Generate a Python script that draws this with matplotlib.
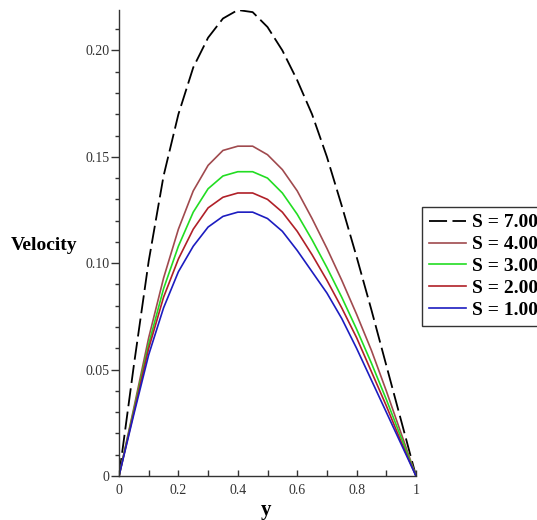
import numpy as np
import matplotlib
matplotlib.use('Agg')
import matplotlib.pyplot as plt
from matplotlib.ticker import MultipleLocator

plt.rcParams['font.family'] = ['Liberation Serif', 'DejaVu Serif']

# y positions (x axis of the chart)
y_pos = [0.0, 0.05, 0.1, 0.15, 0.2, 0.25, 0.3, 0.35, 0.4, 0.45, 0.5,
         0.55, 0.6, 0.65, 0.7, 0.75, 0.8, 0.85, 0.9, 0.95, 1.0]

# velocity profiles
vel_s7 = [0, 0.052, 0.101, 0.141, 0.170, 0.192, 0.206, 0.215, 0.219, 0.218, 0.211,
          0.200, 0.186, 0.170, 0.150, 0.127, 0.103, 0.078, 0.052, 0.026, 0]
vel_s4 = [0, 0.032, 0.065, 0.093, 0.116, 0.134, 0.146, 0.153, 0.155, 0.155, 0.151,
          0.144, 0.134, 0.121, 0.107, 0.092, 0.076, 0.059, 0.040, 0.020, 0]
vel_s3 = [0, 0.031, 0.062, 0.088, 0.108, 0.124, 0.135, 0.141, 0.143, 0.143, 0.140,
          0.133, 0.123, 0.111, 0.098, 0.084, 0.069, 0.053, 0.036, 0.018, 0]
vel_s2 = [0, 0.030, 0.060, 0.084, 0.102, 0.116, 0.126, 0.131, 0.133, 0.133, 0.130,
          0.124, 0.115, 0.104, 0.092, 0.079, 0.065, 0.049, 0.033, 0.016, 0]
vel_s1 = [0, 0.029, 0.057, 0.079, 0.096, 0.108, 0.117, 0.122, 0.124, 0.124, 0.121,
          0.115, 0.106, 0.096, 0.086, 0.074, 0.060, 0.045, 0.030, 0.015, 0]

labels = ['S = 7.00', 'S = 4.00', 'S = 3.00', 'S = 2.00', 'S = 1.00']
colors = ['black', '#a04a4e', '#22dd22', '#b02028', '#1c1cc0']

x_ticks = [0, 0.2, 0.4, 0.6, 0.8, 1.0]
x_ticklabels = ['0', '0.2', '0.4', '0.6', '0.8', '1']
y_ticks = [0, 0.05, 0.10, 0.15, 0.20]
y_ticklabels = ['0', '0.05', '0.10', '0.15', '0.20']

fig = plt.figure(figsize=(5.37, 5.2), dpi=100)
ax = fig.add_axes([119/537, 44/520, 297/537, 466/520])

series = [vel_s7, vel_s4, vel_s3, vel_s2, vel_s1]
for i, v in enumerate(series):
    if i == 0:
        ax.plot(y_pos, v, color=colors[i], lw=1.3, dashes=(10, 3), label=labels[i])
    else:
        ax.plot(y_pos, v, color=colors[i], lw=1.2, label=labels[i])

ax.set_xlim(0, 1)
ax.set_ylim(0, 0.219)
for s in ['top', 'right']:
    ax.spines[s].set_visible(False)
for s in ['left', 'bottom']:
    ax.spines[s].set_linewidth(1.0)
    ax.spines[s].set_color('#333333')

ax.set_xticks(x_ticks)
ax.set_xticklabels(x_ticklabels)
ax.set_yticks(y_ticks)
ax.set_yticklabels(y_ticklabels)
ax.xaxis.set_minor_locator(MultipleLocator(0.1))
ax.yaxis.set_minor_locator(MultipleLocator(0.01))
ax.tick_params(axis='x', which='both', direction='in', length=4, width=1,
               labelsize=10, pad=6, colors='#333333')
ax.tick_params(axis='y', which='major', direction='out', length=6, width=1,
               labelsize=10, pad=1, colors='#333333')
ax.tick_params(axis='y', which='minor', direction='out', length=3, width=1,
               colors='#333333')

fig.text(44/537, 1 - 245/520, 'Velocity', fontsize=14, fontweight='bold',
         ha='center', va='center')
fig.text(266/537, 1 - 510/520, 'y', fontsize=15, fontweight='bold',
         ha='center', va='center')

leg = ax.legend(loc='upper left', bbox_to_anchor=(422/537, 1 - 207/520),
                bbox_transform=fig.transFigure, fancybox=False, frameon=True,
                edgecolor='#333333', framealpha=1, borderpad=0.35,
                labelspacing=0.22, handlelength=1.9, handletextpad=0.3,
                borderaxespad=0, prop={'weight': 'bold', 'size': 14})
leg.get_frame().set_linewidth(1.0)

fig.savefig('out.png', dpi=100)
